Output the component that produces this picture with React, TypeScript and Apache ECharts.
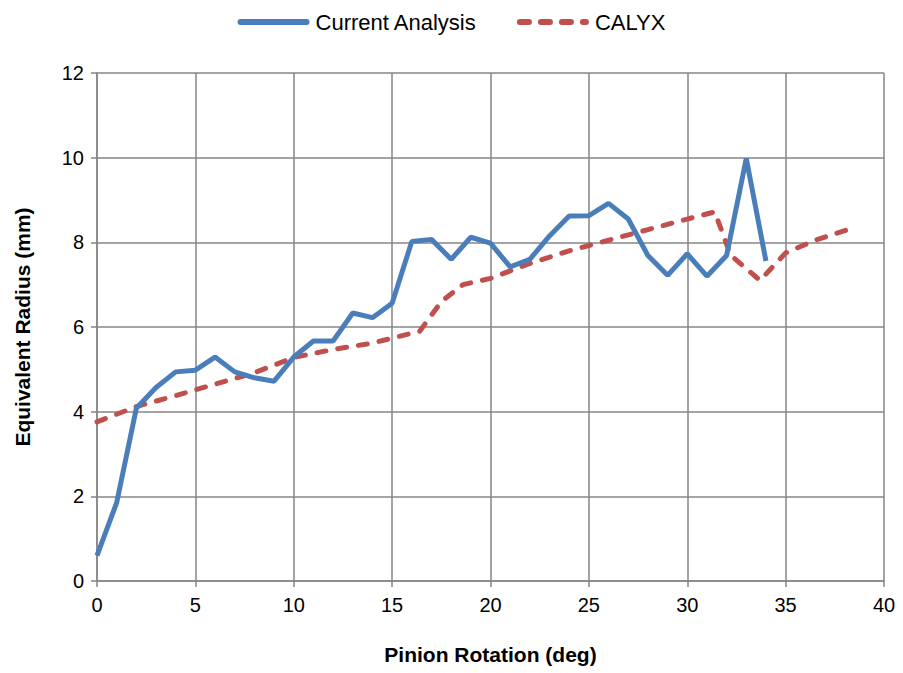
import React, { useEffect, useRef } from "react";
import * as echarts from "echarts";

const currentX = [0,1,2,3,4,5,6,7,8,9,10,11,12,13,14,15,16,17,18,19,20,21,22,23,24,25,26,27,28,29,30,31,32,33,34];
const currentY = [0.6,1.85,4.08,4.57,4.94,4.98,5.29,4.94,4.8,4.72,5.29,5.67,5.67,6.33,6.22,6.56,8.02,8.07,7.6,8.12,7.98,7.42,7.6,8.15,8.62,8.63,8.92,8.55,7.69,7.22,7.73,7.2,7.69,9.98,7.56];

const calyxX = [0,2,4,6,8,10,12,14,16.4,17.5,18.6,20,22,24,26,28,30,31.4,32.2,33.7,35,36.5,38.3];
const calyxY = [3.76,4.12,4.38,4.65,4.92,5.28,5.47,5.62,5.9,6.6,7.0,7.15,7.5,7.8,8.05,8.3,8.55,8.72,7.7,7.1,7.75,8.05,8.32];

const xTicks = { min: 0, max: 40, interval: 5 };
const yTicks = { min: 0, max: 12, interval: 2 };

export default function App() {
  const ref = useRef<HTMLDivElement>(null);
  useEffect(() => {
    if (!ref.current) return;
    const chart = echarts.init(ref.current, null, { renderer: "svg" });
    const font = "Liberation Sans";
    const gridColor = "#868686";
    chart.setOption({
      animation: false,
      backgroundColor: "#ffffff",
      textStyle: { fontFamily: font },
      legend: {
        top: 6,
        left: "center",
        itemWidth: 66,
        itemHeight: 10,
        itemGap: 40,
        textStyle: { fontFamily: font, fontSize: 22, color: "#000", padding: [0, 0, 0, 4] },
        lineStyle: { width: 6, cap: "round" },
        itemStyle: { color: "transparent", borderWidth: 0, opacity: 0 },
        data: ["Current Analysis", "CALYX"],
      },
      grid: { left: 97, right: 19, top: 73, bottom: 92, containLabel: false },
      xAxis: {
        type: "value",
        min: xTicks.min,
        max: xTicks.max,
        interval: xTicks.interval,
        name: "Pinion Rotation (deg)",
        nameLocation: "middle",
        nameGap: 63,
        nameTextStyle: { fontFamily: font, fontSize: 21, fontWeight: "bold", color: "#000" },
        axisLine: { show: true, lineStyle: { color: gridColor, width: 1.5 } },
        axisTick: { show: true, length: 6, lineStyle: { color: gridColor, width: 1.5 } },
        axisLabel: { fontFamily: font, fontSize: 20, color: "#000", margin: 14 },
        splitLine: { show: true, lineStyle: { color: gridColor, width: 1.5 } },
      },
      yAxis: {
        type: "value",
        min: yTicks.min,
        max: yTicks.max,
        interval: yTicks.interval,
        name: "Equivalent Radius (mm)",
        nameLocation: "middle",
        nameGap: 64,
        nameTextStyle: { fontFamily: font, fontSize: 21, fontWeight: "bold", color: "#000" },
        axisLine: { show: true, lineStyle: { color: gridColor, width: 1.5 } },
        axisTick: { show: true, length: 6, lineStyle: { color: gridColor, width: 1.5 } },
        axisLabel: { fontFamily: font, fontSize: 20, color: "#000", margin: 13 },
        splitLine: { show: true, lineStyle: { color: gridColor, width: 1.5 } },
      },
      series: [
        {
          name: "Current Analysis",
          type: "line",
          symbol: "none",
          data: currentX.map((x, i) => [x, currentY[i]]),
          lineStyle: { color: "#4a7ebb", width: 5 },
          itemStyle: { color: "#4a7ebb" },
          z: 3,
        },
        {
          name: "CALYX",
          type: "line",
          symbol: "none",
          data: calyxX.map((x, i) => [x, calyxY[i]]),
          lineStyle: { color: "#c0504d", width: 5, type: [9, 12], cap: "round" },
          itemStyle: { color: "#c0504d" },
          z: 2,
        },
      ],
    });
    return () => chart.dispose();
  }, []);
  return (
    <div
      ref={ref}
      style={{ position: "fixed", left: 0, top: 0, width: 903, height: 673 }}
    />
  );
}
